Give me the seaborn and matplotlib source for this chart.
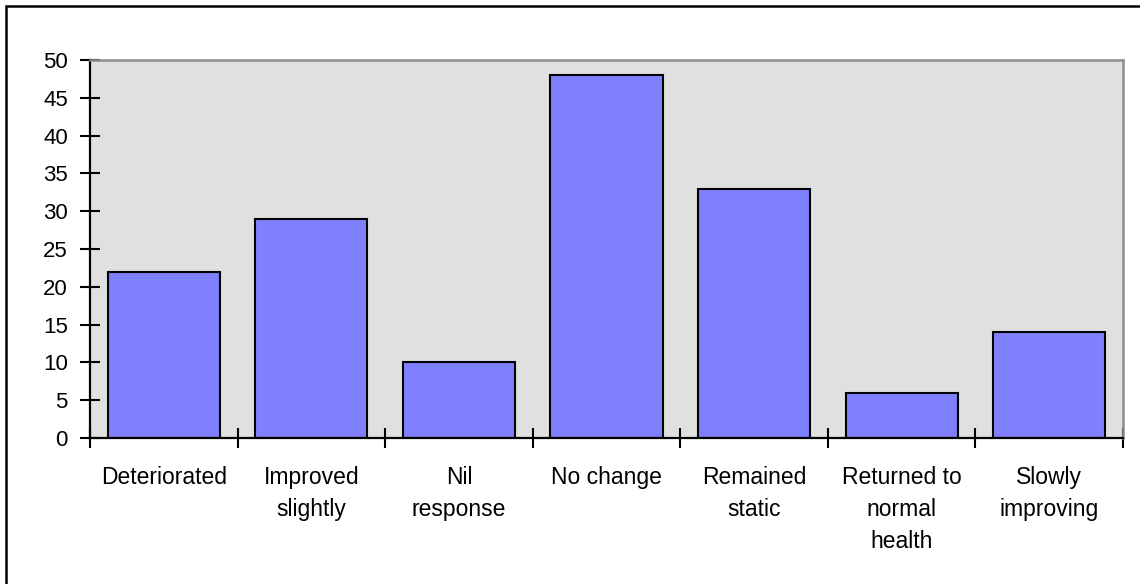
import matplotlib
matplotlib.use("Agg")
import matplotlib.pyplot as plt
from matplotlib.patches import Rectangle
from matplotlib.ticker import FixedLocator
import seaborn as sns
import pandas as pd

categories = ["Deteriorated", "Improved\nslightly", "Nil\nresponse", "No change",
              "Remained\nstatic", "Returned to\nnormal\nhealth", "Slowly\nimproving"]
counts = [22, 29, 10, 48, 33, 6, 14]
y_ticks = list(range(0, 51, 5))

sns.set_theme(style="white")
plt.rcParams["font.family"] = ["Liberation Sans", "DejaVu Sans"]
plt.rcParams["text.color"] = "black"
plt.rcParams["xtick.color"] = "black"
plt.rcParams["ytick.color"] = "black"

W, H = 1140, 584
fig = plt.figure(figsize=(W / 100, H / 100), dpi=100)
ax = fig.add_axes([90 / W, 1 - 438 / H, (1123 - 90) / W, (438 - 60) / H])

df = pd.DataFrame({"category": categories, "count": counts})
sns.barplot(data=df, x="category", y="count", ax=ax, color="#8080FF",
            saturation=1, width=0.76, edgecolor="black", linewidth=1.5)

ax.set_facecolor("#E0E0E0")
ax.set_xlim(-0.5, len(categories) - 0.5)
ax.set_ylim(0, 50)
ax.set_xlabel("")
ax.set_ylabel("")

ax.set_yticks(y_ticks)
ax.tick_params(axis="y", direction="inout", length=14, width=1.5, color="black",
               labelcolor="black", labelsize=16, pad=9, left=True)
ax.tick_params(axis="x", which="major", length=0, labelsize=16.5, labelcolor="black", pad=20)
ax.xaxis.set_minor_locator(FixedLocator([i - 0.5 for i in range(len(categories) + 1)]))
ax.tick_params(axis="x", which="minor", direction="inout", length=14, width=1.5,
               color="black", bottom=True)
for lbl in ax.get_xticklabels():
    lbl.set_linespacing(1.52)
    lbl.set_verticalalignment("top")

for side in ("left", "bottom"):
    ax.spines[side].set_color("black")
    ax.spines[side].set_linewidth(1.6)
for side in ("top", "right"):
    ax.spines[side].set_color("#8C8C8C")
    ax.spines[side].set_linewidth(1.8)

# frame around the whole chart (only top and left edges fall inside the canvas)
fig.patches.append(Rectangle((6 / W, -0.05), 1.2, 1 - 6 / H + 0.05,
                             transform=fig.transFigure, fill=False,
                             edgecolor="black", linewidth=1.8))

fig.savefig("out.png", dpi=100, facecolor="white")
